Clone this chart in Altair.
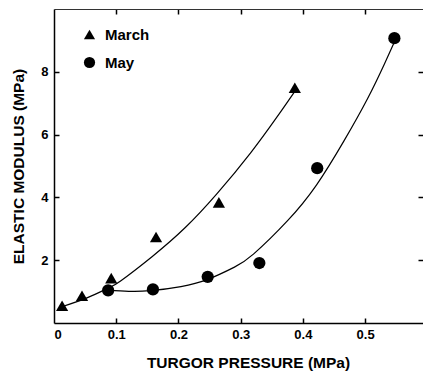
import altair as alt
import pandas as pd

# ---- data ----
series_names = ["March", "May"]
march_x = [0.013, 0.045, 0.092, 0.164, 0.265, 0.387]
march_y = [0.55, 0.87, 1.43, 2.74, 3.84, 7.49]
may_x = [0.087, 0.159, 0.247, 0.330, 0.423, 0.547]
may_y = [1.04, 1.07, 1.47, 1.91, 4.93, 9.07]

# fitted curves
march_curve_x = [0.010, 0.053, 0.086, 0.107, 0.158, 0.211, 0.262, 0.316, 0.359, 0.386]
march_curve_y = [0.50, 0.80, 1.10, 1.34, 2.12, 3.04, 4.12, 5.42, 6.58, 7.35]
may_curve_x = [0.087, 0.120, 0.155, 0.204, 0.247, 0.290, 0.321, 0.375, 0.422, 0.466, 0.504, 0.531, 0.547]
may_curve_y = [1.05, 1.01, 1.03, 1.16, 1.39, 1.78, 2.20, 3.25, 4.40, 5.80, 7.15, 8.25, 8.95]

x_label_values = [0, 0.1, 0.2, 0.3, 0.4, 0.5]
x_tick_values = [0.1, 0.2, 0.3, 0.4, 0.5]
y_tick_values = [2, 4, 6, 8]
x_domain = [0, 0.593]
y_domain = [0, 10]

df = pd.DataFrame({
    "pressure": march_x + may_x,
    "modulus": march_y + may_y,
    "series": [series_names[0]] * len(march_x) + [series_names[1]] * len(may_x),
})
curves = pd.DataFrame({
    "pressure": march_curve_x + may_curve_x,
    "modulus": march_curve_y + may_curve_y,
    "series": [series_names[0]] * len(march_curve_x) + [series_names[1]] * len(may_curve_x),
})

FONT = "Liberation Sans"


def xenc(axis):
    return alt.X("pressure:Q", scale=alt.Scale(domain=x_domain, nice=False, zero=False), axis=axis)


def yenc(axis):
    return alt.Y("modulus:Q", scale=alt.Scale(domain=y_domain, nice=False, zero=False), axis=axis)


base = alt.Chart(df)

lines = alt.Chart(curves).mark_line(color="black", strokeWidth=1.2, interpolate="natural").encode(
    x=xenc(None), y=yenc(None), detail="series:N"
)

points = base.mark_point(filled=True, color="black", opacity=1, size=150, strokeWidth=0).encode(
    x=xenc(alt.Axis(values=x_label_values, format="~g", ticks=False, domainWidth=1.5,
                    labelPadding=5, title="TURGOR PRESSURE (MPa)", titleX=194, titleY=44,
                    titleBaseline="alphabetic")),
    y=yenc(alt.Axis(values=y_tick_values, ticks=False, domainWidth=1.5, labelPadding=6,
                    title="ELASTIC MODULUS (MPa)", titleX=-31, titleBaseline="alphabetic")),
    shape=alt.Shape("series:N",
                    scale=alt.Scale(domain=series_names, range=["triangle-up", "circle"]),
                    legend=alt.Legend(orient="none", legendX=28, legendY=18, title=None,
                                      labelFontSize=15, labelFontWeight="bold", labelFont=FONT,
                                      labelColor="black", symbolSize=125,
                                      symbolFillColor="black", symbolStrokeColor="black",
                                      symbolStrokeWidth=0, symbolOpacity=1, labelOffset=8,
                                      rowPadding=12, padding=0)),
)

ticks_bl = base.mark_point(opacity=0).encode(
    x=xenc(alt.Axis(values=x_tick_values, orient="bottom", offset=-5, tickSize=5, tickWidth=1.5,
                    domain=False, labels=False, title=None)),
    y=yenc(alt.Axis(values=y_tick_values, orient="left", offset=-5, tickSize=5, tickWidth=1.5,
                    domain=False, labels=False, title=None)),
)

ticks_tr = base.mark_point(opacity=0).encode(
    x=xenc(alt.Axis(values=x_tick_values, orient="top", offset=-5, tickSize=5, tickWidth=1.5,
                    domain=False, labels=False, title=None)),
    y=yenc(alt.Axis(values=y_tick_values, orient="right", offset=-5, tickSize=5, tickWidth=1.5,
                    domain=False, labels=False, title=None)),
)

top_border = base.mark_point(opacity=0).encode(
    x=xenc(alt.Axis(orient="top", ticks=False, labels=False, domain=True, domainWidth=1,
                    domainColor="#333333", title=None)),
    y=yenc(None),
)

chart = alt.layer(lines, points, ticks_bl, ticks_tr, top_border).resolve_scale(
    x="independent", y="independent"
).properties(
    width=369, height=314,
    autosize=alt.AutoSizeParams(type="none"),
    padding={"left": 54, "top": 9, "right": 0, "bottom": 51},
).configure_axis(
    grid=False, labelFont=FONT, labelFontSize=13, labelFontWeight="bold", labelColor="black",
    titleFont=FONT, titleFontSize=15.5, titleFontWeight="bold", titleColor="black",
    domainColor="black", tickColor="black",
).configure_view(stroke=None)

chart.save("out.html", embed_options={"renderer": "svg", "actions": False})
